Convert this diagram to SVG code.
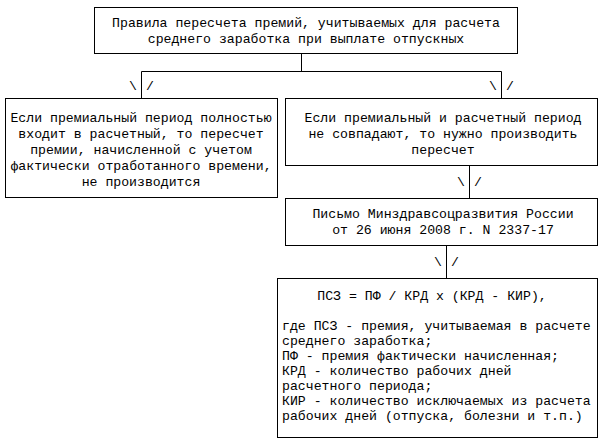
<svg xmlns="http://www.w3.org/2000/svg" width="603" height="444" viewBox="0 0 603 444">
<style>
rect{fill:#fff;stroke:#000;stroke-width:1}
text{font-family:"Liberation Mono","DejaVu Sans Mono",monospace;font-size:13.2px;fill:#000}
.c{text-anchor:middle}
line{stroke:#000;stroke-width:1}
</style>
<rect x="0" y="0" width="603" height="444" style="stroke:none"/>
<g id="connectors">
<line x1="301.5" y1="54" x2="301.5" y2="71.5"/>
<line x1="141.5" y1="71.5" x2="501.5" y2="71.5"/>
<line x1="141.5" y1="71.5" x2="141.5" y2="98"/>
<line x1="501.5" y1="71.5" x2="501.5" y2="98"/>
<line x1="469.5" y1="165" x2="469.5" y2="198"/>
<line x1="446.5" y1="245" x2="446.5" y2="278"/>
<text x="129" y="90">\</text><text x="146" y="90">/</text>
<text x="489" y="90">\</text><text x="506" y="90">/</text>
<text x="457" y="186">\</text><text x="474" y="186">/</text>
<text x="434" y="266">\</text><text x="451" y="266">/</text>
</g>
<g id="n1">
<rect x="94.5" y="7.5" width="423" height="46"/>
<text class="c" x="306" y="27">Правила пересчета премий, учитываемых для расчета</text>
<text class="c" x="306" y="43">среднего заработка при выплате отпускных</text>
</g>
<g id="n2">
<rect x="5.5" y="98.5" width="272" height="99"/>
<text class="c" x="141" y="122">Если премиальный период полностью</text>
<text class="c" x="141" y="138">входит в расчетный, то пересчет</text>
<text class="c" x="141" y="154">премии, начисленной с учетом</text>
<text class="c" x="141" y="170">фактически отработанного времени,</text>
<text class="c" x="141" y="186">не производится</text>
</g>
<g id="n3">
<rect x="285.5" y="98.5" width="312" height="67"/>
<text class="c" x="443" y="122">Если премиальный и расчетный период</text>
<text class="c" x="443" y="138">не совпадают, то нужно производить</text>
<text class="c" x="443" y="154">пересчет</text>
</g>
<g id="n4">
<rect x="285.5" y="198.5" width="312" height="47"/>
<text class="c" x="443" y="218">Письмо Минздравсоцразвития России</text>
<text class="c" x="443" y="234">от 26 июня 2008 г. N 2337-17</text>
</g>
<g id="n5">
<rect x="277.5" y="278.5" width="320" height="159"/>
<text class="c" x="432" y="300">ПСЗ = ПФ / КРД x (КРД - КИР),</text>
<text x="282" y="330">где ПСЗ - премия, учитываемая в расчете</text>
<text x="282" y="345">среднего заработка;</text>
<text x="282" y="360">ПФ - премия фактически начисленная;</text>
<text x="282" y="375">КРД - количество рабочих дней</text>
<text x="282" y="390">расчетного периода;</text>
<text x="282" y="405">КИР - количество исключаемых из расчета</text>
<text x="282" y="420">рабочих дней (отпуска, болезни и т.п.)</text>
</g>
</svg>
